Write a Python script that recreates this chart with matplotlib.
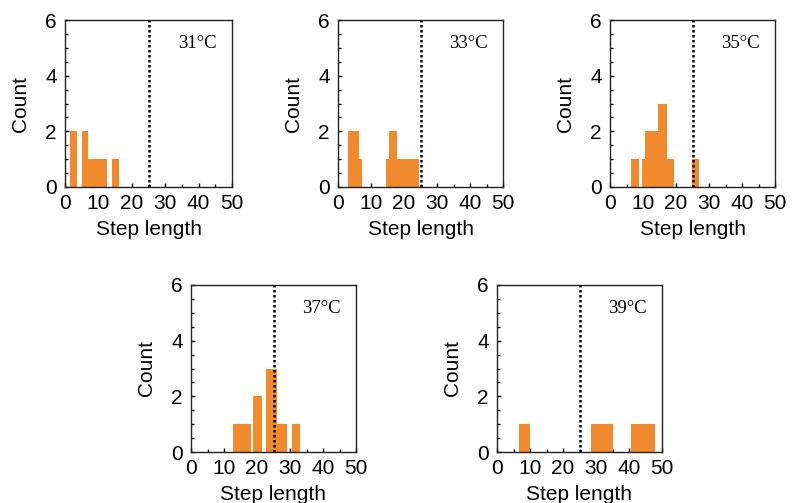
import matplotlib
matplotlib.use("Agg")
import matplotlib.pyplot as plt
import numpy as np
from matplotlib.ticker import MultipleLocator

# Data: bar left edges, right edges, counts per temperature
temps = ["31", "33", "35", "37", "39"]

left_31 = [1.6, 5.0, 6.8, 14.2]
right_31 = [3.6, 6.8, 12.7, 16.1]
count_31 = [2, 2, 1, 1]

left_33 = [3.0, 6.3, 14.6, 15.4, 17.9]
right_33 = [6.3, 7.3, 15.4, 17.9, 24.5]
count_33 = [2, 1, 1, 2, 1]

left_35 = [6.4, 9.6, 10.6, 14.6, 17.2, 24.7]
right_35 = [8.8, 10.6, 14.6, 17.2, 19.5, 27.1]
count_35 = [1, 1, 2, 3, 1, 1]

left_37 = [12.8, 18.8, 22.8, 26.0, 30.6]
right_37 = [18.1, 21.5, 26.0, 29.0, 33.1]
count_37 = [1, 2, 3, 1, 1]

left_39 = [6.6, 28.5, 40.6]
right_39 = [9.9, 35.2, 48.0]
count_39 = [1, 1, 1]

threshold = 25
x_ticks = [0, 10, 20, 30, 40, 50]
y_ticks = [0, 2, 4, 6]

data = [
    (left_31, right_31, count_31),
    (left_33, right_33, count_33),
    (left_35, right_35, count_35),
    (left_37, right_37, count_37),
    (left_39, right_39, count_39),
]

W, H = 799, 503
fig = plt.figure(figsize=(W / 100, H / 100), dpi=100)

# axes boxes in pixels: (left, top, width, height)
boxes = [
    (65, 20, 167, 167),
    (338, 20, 165, 167),
    (610, 20, 165, 167),
    (191, 285, 165, 167),
    (497, 285, 165, 167),
]

bar_color = "#F18A2D"
sans = "Liberation Sans"
serif = "Liberation Serif"
fs = 15

for (lx, ty, w, h), (le, ri, ct), t in zip(boxes, data, temps):
    ax = fig.add_axes([lx / W, 1 - (ty + h) / H, w / W, h / H])
    le = np.array(le)
    ri = np.array(ri)
    ax.bar(le, ct, width=ri - le, align="edge", color=bar_color,
           edgecolor="none", zorder=2)
    ax.axvline(threshold, color="black", linestyle=(0, (1, 1)), lw=1.8, zorder=3)
    ax.set_xlim(0, 50)
    ax.set_ylim(0, 6)
    ax.set_xticks(x_ticks)
    ax.set_yticks(y_ticks)
    ax.xaxis.set_minor_locator(MultipleLocator(5))
    ax.yaxis.set_minor_locator(MultipleLocator(0.5))
    ax.tick_params(which="both", direction="in", top=False, right=False,
                   labelsize=fs)
    ax.tick_params(axis="x", which="major", pad=5)
    ax.tick_params(axis="y", which="major", pad=6)
    ax.tick_params(which="major", length=3, width=1)
    ax.tick_params(which="minor", length=2, width=1)
    for lab in ax.get_xticklabels() + ax.get_yticklabels():
        lab.set_fontfamily(sans)
    for sp in ax.spines.values():
        sp.set_linewidth(1.0)
        sp.set_color("#222222")
    ax.set_xlabel("Step length", fontsize=fs, fontfamily=sans, labelpad=5)
    ax.set_ylabel("Count", fontsize=fs, fontfamily=sans, labelpad=11)
    ax.text(39.5, 5.15, t + "\u00b0C", fontsize=13.5, fontfamily=serif,
            ha="center", va="center")

fig.savefig("out.png", dpi=100)
